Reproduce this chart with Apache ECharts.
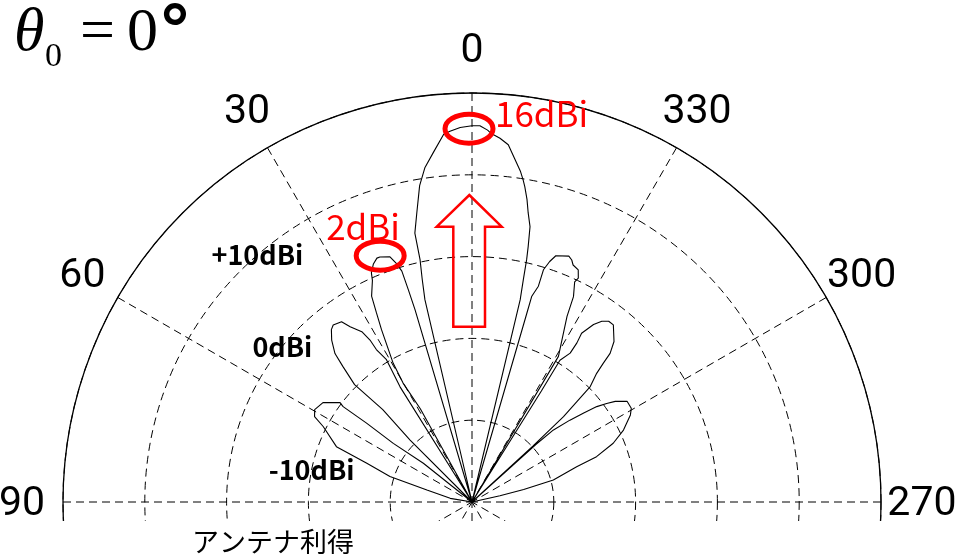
<!DOCTYPE html>
<html>
<head>
<meta charset="utf-8">
<script src="https://cdn.jsdelivr.net/npm/echarts@6/dist/echarts.min.js"></script>
<style>
  html, body { margin: 0; padding: 0; background: #ffffff; }
  #chart { width: 959px; height: 558px; }
</style>
</head>
<body>
<div id="chart"></div>
<script>
// Radiation pattern cut: azimuth (deg, 0 = boresight, counter-clockwise) and gain (dBi).
// Nulls deeper than the axis floor are recorded at -30 dBi (plot centre).
const azimuthDeg = [
  270, 276, 282.5, 283.5, 285.1, 288.6, 290.0, 292.6, 295.4, 298.8, 300.5, 303.0,
  305.1, 306.2, 307.4, 308.6, 309.9, 311.5, 312.0, 312.2,
  312.6, 313.0, 314.3, 315.9, 316.6, 317.1, 318.5, 321.4, 322.9, 324.3, 325.6,
  327.0, 326.6, 326.6, 328.2, 328.0, 328.3,
  329.3, 331.0, 332.9, 333.7, 335.0, 334.6, 335.4, 336.9, 337.6, 338.5, 341.2,
  342.1, 342.9, 342.9, 343.8, 343.8, 344.0,
  346.6, 347.0, 347.3, 347.6, 348.1, 349.0, 349.7, 350.5, 351.0, 351.7, 352.5,
  353.5, 354.2, 355.6, 357.0, 357.6, 358.8, 0, 1.8, 3.4, 4.4, 6.3, 8.0, 9.4,
  10.8, 12.0, 12.1, 12.6, 13.1, 13.3,
  16.5, 16.7, 16.9, 17.6, 18.5, 20.6, 21.3, 22.5, 23.7, 24.2, 26.0, 26.8, 27.7,
  29.6, 30.1, 29.0, 29.2,
  32.0, 31.0, 32.1, 32.2, 32.9, 34.8, 35.9, 38.1, 39.2, 40.9, 42.7, 43.6, 45.0,
  44.0, 45.0, 44.7,
  51.5, 53.3, 53.2, 53.5, 53.0, 56.3, 59.6, 61.5, 63.1, 67.8, 69.8, 72.8, 75.2,
  80.5, 84, 90
];
const gainDbi = [
  -30, -30, -26.5, -23.5, -19.7, -16.5, -13.8, -11.3, -9.5, -7.9, -7.4, -7.4,
  -8.6, -9.6, -10.8, -12.6, -14.4, -16.7, -19.5, -30,
  -19.9, -14.7, -9.8, -8.1, -6.6, -5.2, -3.8, -2.3, -2.3, -2.8, -3.7,
  -5.4, -6.7, -8.2, -9.6, -14.0, -30,
  -9.3, -7.3, -4.5, -2.0, -0.3, 0.3, 1.2, 1.5, 2.0, 2.3, 1.8,
  0.9, -0.3, -2.4, -3.8, -6.0, -30,
  -4.6, -2.1, 0.4, 2.0, 4.4, 6.0, 7.6, 9.1, 9.9, 10.9, 11.8,
  13.0, 13.9, 14.6, 15.1, 15.5, 16.0, 16.0, 15.8, 15.4, 15.1, 13.0, 11.3, 9.2,
  6.0, 3.6, 0.3, -2.1, -4.6, -30,
  -5.5, -2.9, -0.5, 0.6, 1.6, 2.0, 2.0, 1.5, 0.6, -0.3, -2.0, -4.1, -6.2,
  -10.5, -13.2, -17.0, -30,
  -13.4, -9.7, -8.0, -6.6, -5.2, -3.9, -2.8, -2.5, -2.8, -3.8, -5.3, -7.1, -9.7,
  -14.3, -19.3, -30,
  -22.4, -18.0, -13.9, -10.4, -9.8, -8.1, -7.7, -8.1, -9.6, -12.1, -16.3, -19.5, -24.3,
  -27.3, -30, -30
];

// Axis setup
const gainMin = -30, gainMax = 20, gainStep = 10;
const angleLabels = [0, 30, 60, 90, 270, 300, 330];

// Ring captions and peak call-outs
const ringValues = [10, 0, -10];
const ringLabels = ['+10dBi', '0dBi', '-10dBi'];
const peakAngles = [0, 21];
const peakValues = [16, 2];
const peakLabels = ['16dBi', '2dBi'];

const chart = echarts.init(document.getElementById('chart'), null, { renderer: 'canvas' });

const dash = [8, 5];
const patternData = azimuthDeg.map((a, i) => [gainDbi[i], a]);

chart.setOption({
  backgroundColor: '#ffffff',
  animation: false,
  polar: { center: [472, 502], radius: 409 },
  angleAxis: {
    type: 'value', min: 0, max: 360, interval: 30,
    startAngle: 90, clockwise: false,
    axisLine: { show: true, lineStyle: { color: '#000', width: 1.3 } },
    axisTick: { show: false },
    axisLabel: { show: false },
    splitLine: { show: true, lineStyle: { color: '#000', width: 1, type: dash } }
  },
  radiusAxis: {
    type: 'value', min: gainMin, max: gainMax, interval: gainStep,
    axisLine: { show: false }, axisTick: { show: false }, axisLabel: { show: false },
    splitLine: { show: true, lineStyle: { color: '#000', width: 1, type: dash } }
  },
  series: [{
    type: 'line', coordinateSystem: 'polar',
    data: patternData, showSymbol: false, smooth: false,
    lineStyle: { color: '#000', width: 1.1 }, z: 3
  }]
});

// Annotations placed through the polar coordinate system
const px = (g, a) => chart.convertToPixel({ polarIndex: 0 }, [g, a]);
const graphics = [];

// hide the lower half of the polar grid below the horizon line
graphics.push({ type: 'rect', left: 0, top: 521, z: 100,
  shape: { width: 959, height: 40 }, style: { fill: '#ffffff' } });

// angle tick labels, centred on a ring just outside the outer circle
const angleLabelRing = 25;
angleLabels.forEach(a => {
  const p = px(angleLabelRing, a);
  const dy = (a === 90 || a === 270) ? 3 : 0;
  graphics.push({ type: 'text', x: p[0], y: p[1] + dy, z: 110,
    style: { text: String(a), font: '41px Roboto', fill: '#000',
      align: 'center', verticalAlign: 'middle' } });
});

const ringAngles = [41, 50.6, 78.7];
ringValues.forEach((v, i) => {
  const p = px(v, ringAngles[i]);
  graphics.push({ type: 'text', x: p[0], y: p[1], z: 110,
    style: { text: ringLabels[i], font: 'bold 27px "Noto Sans CJK JP"', fill: '#000',
      align: 'center', verticalAlign: 'middle' } });
});

const peakOffsets = [[-3, 3], [2, -2]];
const labelOffsets = [[26, -15], [-54, -29]];
peakValues.forEach((v, i) => {
  const p = px(v, peakAngles[i]);
  const cx = p[0] + peakOffsets[i][0], cy = p[1] + peakOffsets[i][1];
  graphics.push({ type: 'ellipse', z: 110,
    shape: { cx: cx, cy: cy, rx: 24, ry: 14.5 },
    style: { fill: 'none', stroke: '#ff0000', lineWidth: 5 } });
  graphics.push({ type: 'text', x: cx + labelOffsets[i][0], y: cy + labelOffsets[i][1], z: 110,
    style: { text: peakLabels[i], font: '35px "Noto Sans CJK JP"', fill: '#ff0000',
      align: 'left', verticalAlign: 'middle' } });
});

// hollow up arrow (beam direction)
graphics.push({ type: 'polygon', z: 110,
  shape: { points: [[469.3, 195], [501.7, 226.7], [485, 226.7], [485, 326.7],
                    [453.3, 326.7], [453.3, 226.7], [436.7, 226.7]] },
  style: { fill: 'none', stroke: '#ff0000', lineWidth: 2.5 } });

// heading: theta_0 = 0°
graphics.push({ type: 'text', x: 14, y: 34, z: 110,
  style: { text: 'θ', font: 'italic 62px "Liberation Serif"', fill: '#000', verticalAlign: 'middle' } });
graphics.push({ type: 'text', x: 45, y: 57, z: 110,
  style: { text: '0', font: '34px "Liberation Serif"', fill: '#000', verticalAlign: 'middle' } });
graphics.push({ type: 'text', x: 80, y: 34, z: 110,
  style: { text: '=', font: '62px "Liberation Serif"', fill: '#000', verticalAlign: 'middle' } });
graphics.push({ type: 'text', x: 127, y: 34, z: 110,
  style: { text: '0', font: '62px "Liberation Serif"', fill: '#000', verticalAlign: 'middle' } });
graphics.push({ type: 'text', x: 158, y: 36, z: 110,
  style: { text: '°', font: 'bold 68px "DejaVu Sans"', fill: '#000', verticalAlign: 'middle' } });

// radial axis caption
graphics.push({ type: 'text', x: 273, y: 542, z: 110,
  style: { text: 'アンテナ利得', font: '27px "Noto Sans CJK JP"', fill: '#000',
    align: 'center', verticalAlign: 'middle' } });

chart.setOption({ graphic: graphics });
</script>
</body>
</html>
